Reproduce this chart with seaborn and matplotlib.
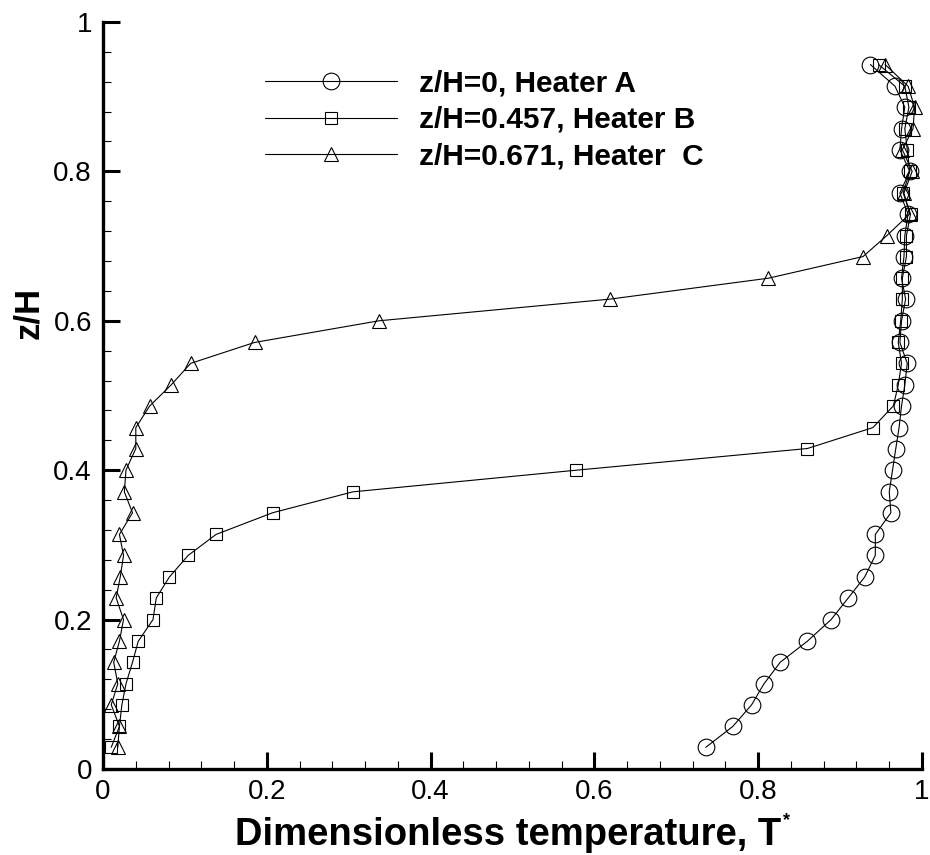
import numpy as np
import pandas as pd
import matplotlib
matplotlib.use("Agg")
import matplotlib.pyplot as plt
import seaborn as sns
from matplotlib.ticker import AutoMinorLocator, FuncFormatter, FixedLocator

# ---------------- data ----------------
z_over_h = [0.029, 0.057, 0.086, 0.114, 0.143, 0.171, 0.2, 0.229, 0.257, 0.286,
            0.314, 0.343, 0.371, 0.4, 0.429, 0.457, 0.486, 0.514, 0.543, 0.571,
            0.6, 0.629, 0.657, 0.686, 0.714, 0.743, 0.771, 0.8, 0.829, 0.857,
            0.886, 0.914, 0.943]

temp_heater_a = [0.736, 0.769, 0.792, 0.807, 0.827, 0.860, 0.889, 0.910, 0.930, 0.943,
                 0.943, 0.962, 0.960, 0.964, 0.968, 0.972, 0.975, 0.979, 0.982, 0.973,
                 0.975, 0.980, 0.975, 0.978, 0.979, 0.983, 0.973, 0.985, 0.973, 0.975,
                 0.979, 0.967, 0.937]

temp_heater_b = [0.010, 0.020, 0.023, 0.028, 0.036, 0.043, 0.061, 0.065, 0.081, 0.104,
                 0.138, 0.207, 0.305, 0.578, 0.860, 0.940, 0.965, 0.971, 0.975, 0.971,
                 0.974, 0.976, 0.976, 0.981, 0.981, 0.986, 0.977, 0.985, 0.982, 0.979,
                 0.984, 0.979, 0.947]

temp_heater_c = [0.018, 0.020, 0.010, 0.018, 0.013, 0.020, 0.025, 0.016, 0.021, 0.025,
                 0.020, 0.036, 0.026, 0.028, 0.040, 0.040, 0.057, 0.083, 0.107, 0.185,
                 0.337, 0.619, 0.8125, 0.928, 0.957, 0.985, 0.978, 0.988, 0.976, 0.989,
                 0.991, 0.983, 0.955]

series_labels = ["z/H=0, Heater A", "z/H=0.457, Heater B", "z/H=0.671, Heater  C"]
series_markers = ["o", "s", "^"]
series_msize = [12, 9, 10.5]

x_ticks = [0, 0.2, 0.4, 0.6, 0.8, 1.0]
y_ticks = [0, 0.2, 0.4, 0.6, 0.8, 1.0]

x_title = "Dimensionless temperature, T"
x_title_sup = "*"
y_title = "z/H"

# ---------------- style ----------------
sns.set_style("ticks")
plt.rcParams["font.family"] = ["Liberation Sans", "DejaVu Sans"]
for key in ["text.color", "axes.labelcolor", "xtick.color", "ytick.color",
            "axes.edgecolor"]:
    plt.rcParams[key] = "black"

W, H = 930, 855
fig = plt.figure(figsize=(W / 100, H / 100), dpi=100)
ax = fig.add_axes([0.1108, 0.1006, 0.9914 - 0.1108, 0.9743 - 0.1006])

all_temps = [temp_heater_a, temp_heater_b, temp_heater_c]
for temps, lab, mk, ms in zip(all_temps, series_labels, series_markers, series_msize):
    df = pd.DataFrame({"T": temps, "z": z_over_h})
    sns.lineplot(data=df, x="T", y="z", ax=ax, sort=False, estimator=None,
                 color="black", linewidth=0.8, marker=mk, markersize=ms,
                 markerfacecolor="none", markeredgecolor="black",
                 markeredgewidth=0.8, label=lab, clip_on=False)

ax.set_xlim(0, 1)
ax.set_ylim(0, 1)

for side in ["top", "right"]:
    ax.spines[side].set_visible(False)
for side in ["left", "bottom"]:
    ax.spines[side].set_linewidth(2.4)
    ax.spines[side].set_color("black")

fmt = FuncFormatter(lambda v, p: "%g" % v)
ax.xaxis.set_major_locator(FixedLocator(x_ticks))
ax.yaxis.set_major_locator(FixedLocator(y_ticks))
ax.xaxis.set_major_formatter(fmt)
ax.yaxis.set_major_formatter(fmt)
ax.xaxis.set_minor_locator(AutoMinorLocator(5))
ax.yaxis.set_minor_locator(AutoMinorLocator(5))

ax.tick_params(which="major", direction="in", length=12, width=2.2,
               labelsize=20, color="black", labelcolor="black")
ax.tick_params(which="minor", direction="in", length=6, width=0.8, color="black")
ax.tick_params(axis="x", which="major", pad=7.5)
ax.tick_params(axis="y", which="major", pad=8)

# x title: baseline ~845 px from top
ax.set_xlabel(x_title, fontsize=27.5, fontweight="bold", color="black")
ax.xaxis.set_label_coords(0.494, -(845.5 - 769) / 747)
ax.xaxis.label.set_verticalalignment("baseline")

ax.set_ylabel(y_title, fontsize=25, fontweight="bold", color="black")
ax.yaxis.set_label_coords(-0.071, 0.61)

leg = ax.legend(loc="center left", bbox_to_anchor=(0.198, 0.8688),
                frameon=False, fontsize=21.5, handlelength=4.4,
                handletextpad=0.75, labelspacing=0.28, borderpad=0,
                borderaxespad=0, numpoints=1)
for t in leg.get_texts():
    t.set_fontweight("bold")
    t.set_color("black")

# superscript asterisk right after the "T"
fig.canvas.draw()
renderer = fig.canvas.get_renderer()
lb = ax.xaxis.label.get_window_extent(renderer)
fig.text((lb.x1 + 2) / W, (H - 812) / H, x_title_sup, fontsize=13,
         fontweight="bold", color="black", ha="left", va="top")

fig.savefig("out.png", dpi=100, facecolor="white")
